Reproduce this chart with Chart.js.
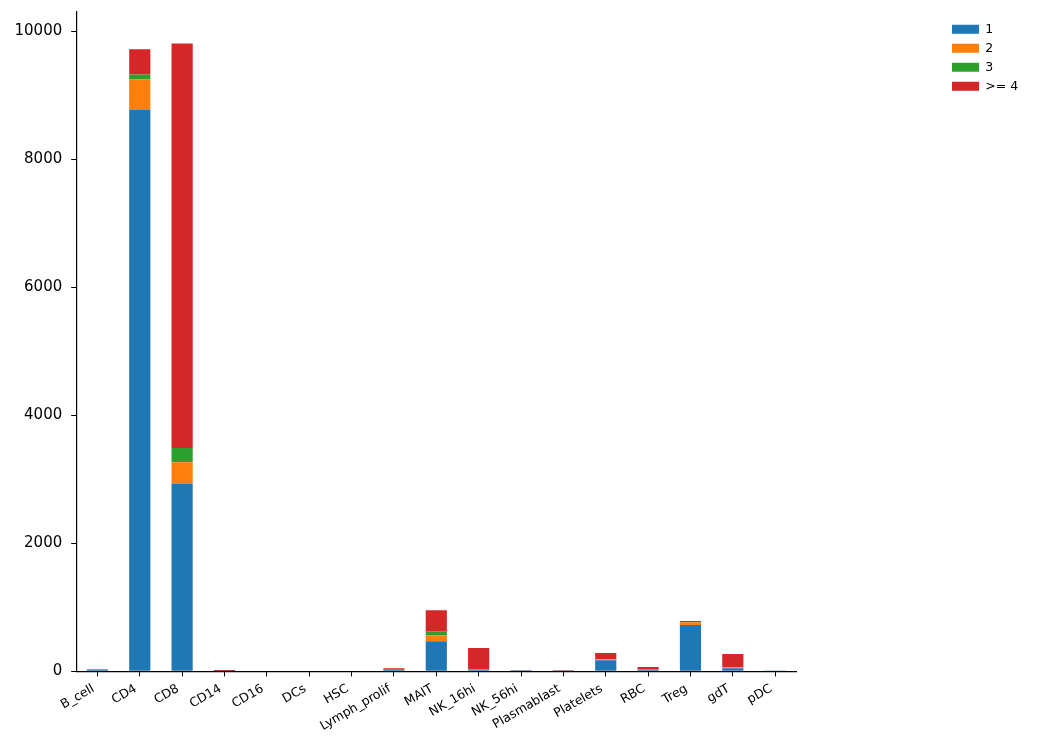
<!DOCTYPE html>
<html>
<head>
<meta charset="utf-8">
<script src="https://cdn.jsdelivr.net/npm/chart.js@4.4.1/dist/chart.umd.min.js"></script>
<style>
  html, body { margin: 0; padding: 0; background: #fff; }
  #wrap { width: 1041px; height: 743px; position: relative; }
</style>
</head>
<body>
<div id="wrap"><canvas id="chart"></canvas></div>
<script>
"use strict";
//----------------- data ----------------------------------------
const cellTypes = ["B_cell", "CD4", "CD8", "CD14", "CD16", "DCs", "HSC", "Lymph_prolif", "MAIT",
  "NK_16hi", "NK_56hi", "Plasmablast", "Platelets", "RBC", "Treg", "gdT", "pDC"];
const count1 = [30, 8781, 2937, 5, 0, 0, 0, 20, 469, 30, 18, 3, 172, 30, 723, 50, 1];
const count2 = [1, 469, 329, 0, 0, 0, 0, 2, 93, 3, 1, 0, 18, 2, 45, 15, 0];
const count3 = [0, 78, 224, 0, 0, 0, 0, 2, 63, 3, 0, 0, 3, 1, 5, 3, 0];
const count4 = [2, 391, 6322, 15, 0, 0, 0, 25, 328, 330, 2, 12, 93, 34, 13, 203, 1];
const seriesNames = ["1", "2", "3", ">= 4"];
const yTicks = [0, 2000, 4000, 6000, 8000, 10000];
const yMax = 10303;

const colors = ["#1f77b4", "#ff7f0e", "#2ca02c", "#d62728"];
const font = "'DejaVu Sans', sans-serif";

//----------------- legend moved off to the right corner ----------
const legendShift = {
  id: "legendShift",
  afterLayout(chart) {
    const lg = chart.legend;
    // pin the legend to the top right corner, away from the axes
    const dx = 945.5 - lg.left;
    const dy = 16.5 - lg.top;
    lg.left += dx;
    lg.right += dx;
    lg.top += dy;
    lg.bottom += dy;
  }
};

const counts = [count1, count2, count3, count4];
const datasets = seriesNames.map((name, i) => ({
  label: name,
  data: counts[i],
  backgroundColor: colors[i],
  borderWidth: 0,
  barPercentage: 0.5,
  categoryPercentage: 1
}));

new Chart(document.getElementById("chart"), {
  type: "bar",
  data: { labels: cellTypes, datasets: datasets },
  plugins: [legendShift],
  options: {
    responsive: true,
    maintainAspectRatio: false,
    animation: false,
    layout: { padding: { left: 5.5, right: 162, top: 5, bottom: 4 } },
    plugins: {
      tooltip: { enabled: false },
      legend: {
        position: "right",
        align: "start",
        labels: {
          boxWidth: 27,
          boxHeight: 9,
          padding: 6.5,
          color: "#000",
          font: { family: font, size: 12.5 }
        }
      }
    },
    scales: {
      x: {
        stacked: true,
        offset: true,
        grid: { offset: false, drawOnChartArea: false, drawTicks: true, tickLength: 5, color: "#000" },
        border: { display: true, color: "#000", width: 1.2 },
        ticks: {
          color: "#000",
          minRotation: 30,
          maxRotation: 30,
          autoSkip: false,
          padding: 5,
          labelOffset: -4,
          font: { family: font, size: 12.5 }
        }
      },
      y: {
        stacked: true,
        min: 0,
        max: yMax,
        afterBuildTicks(axis) {
          axis.ticks = yTicks.map(v => ({ value: v }));
        },
        grid: { drawOnChartArea: false, drawTicks: true, tickLength: 5, color: "#000" },
        border: { display: true, color: "#000", width: 1.2 },
        ticks: {
          color: "#000",
          padding: 9,
          font: { family: font, size: 15, lineHeight: 0.4 },
          callback: v => String(v)
        }
      }
    }
  }
});
</script>
</body>
</html>
